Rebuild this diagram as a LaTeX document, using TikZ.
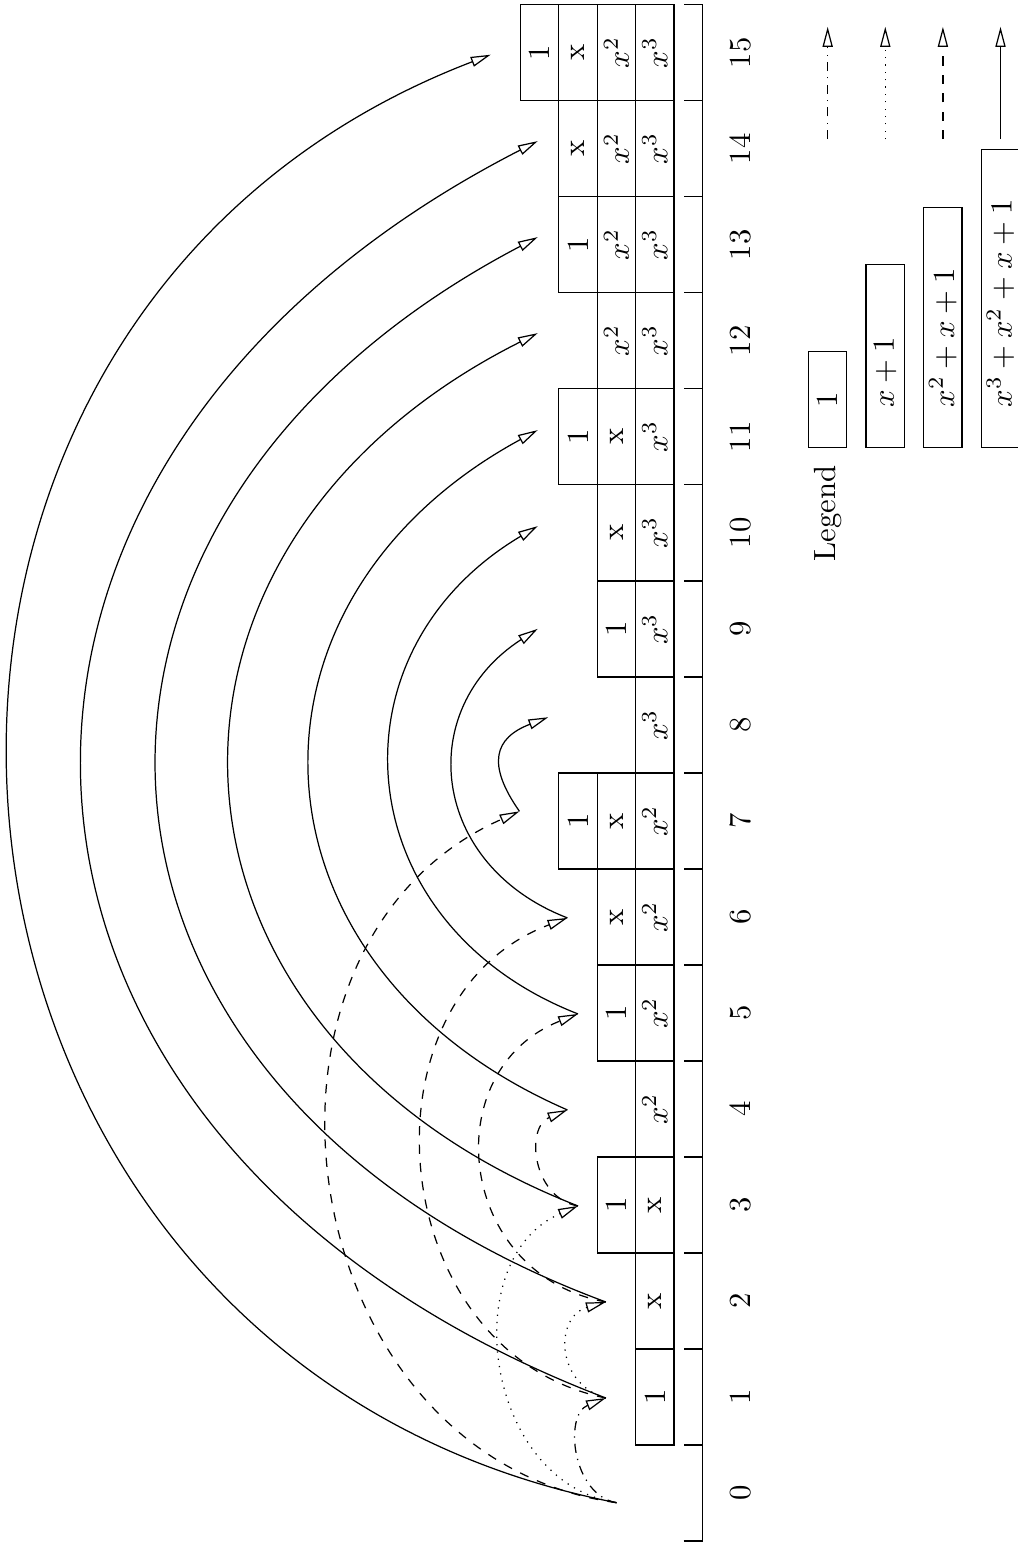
\documentclass[tikz,border=0pt]{standalone}
\usepackage{amsmath}
\usetikzlibrary{arrows.meta}

\begin{document}
\begin{tikzpicture}[
    rotate=90, transform shape, x=1.1cm, y=1.1cm,
    cell/.style={draw, minimum width=1.1cm, minimum height=0.44cm, inner sep=0pt},
    key/.style={draw, anchor=west, inner xsep=0.4565cm, inner ysep=0pt,
                minimum height=0.44cm, text width=#1, align=left},
    arrowed/.style={-{Triangle[open, length=6.5pt, width=3.3pt]}},
    hop/.style={arrowed, bend left=74, looseness=1.33},
  ]
  \useasboundingbox (-0.02,-3.28) rectangle (16.05,7.32);

  % axis with one slot per value
  \draw (0,0.2) -- (0,0) -- (16,0) -- (16,0.2);
  \draw (1,0) -- (1,0.2) (2,0) -- (2,0.2) (3,0) -- (3,0.2) (4,0) -- (4,0.2)
        (5,0) -- (5,0.2) (6,0) -- (6,0.2) (7,0) -- (7,0.2) (8,0) -- (8,0.2)
        (9,0) -- (9,0.2) (10,0) -- (10,0.2) (11,0) -- (11,0.2) (12,0) -- (12,0.2)
        (13,0) -- (13,0.2) (14,0) -- (14,0.2) (15,0) -- (15,0.2);
  \node (n0)  at (0.5,-0.39)  {0};
  \node (n1)  at (1.5,-0.39)  {1};
  \node (n2)  at (2.5,-0.39)  {2};
  \node (n3)  at (3.5,-0.39)  {3};
  \node (n4)  at (4.5,-0.39)  {4};
  \node (n5)  at (5.5,-0.39)  {5};
  \node (n6)  at (6.5,-0.39)  {6};
  \node (n7)  at (7.5,-0.39)  {7};
  \node (n8)  at (8.5,-0.39)  {8};
  \node (n9)  at (9.5,-0.39)  {9};
  \node (n10) at (10.5,-0.39) {10};
  \node (n11) at (11.5,-0.39) {11};
  \node (n12) at (12.5,-0.39) {12};
  \node (n13) at (13.5,-0.39) {13};
  \node (n14) at (14.5,-0.39) {14};
  \node (n15) at (15.5,-0.39) {15};

  % terms of each polynomial, highest power next to the axis
  \node[cell] (c1a)  at (1.5,0.5)  {1};
  \node[cell] (c2a)  at (2.5,0.5)  {x};
  \node[cell] (c3a)  at (3.5,0.5)  {x};
  \node[cell] (c3b)  at (3.5,0.9)  {1};
  \node[cell] (c4a)  at (4.5,0.5)  {$x^2$};
  \node[cell] (c5a)  at (5.5,0.5)  {$x^2$};
  \node[cell] (c5b)  at (5.5,0.9)  {1};
  \node[cell] (c6a)  at (6.5,0.5)  {$x^2$};
  \node[cell] (c6b)  at (6.5,0.9)  {x};
  \node[cell] (c7a)  at (7.5,0.5)  {$x^2$};
  \node[cell] (c7b)  at (7.5,0.9)  {x};
  \node[cell] (c7c)  at (7.5,1.3)  {1};
  \node[cell] (c8a)  at (8.5,0.5)  {$x^3$};
  \node[cell] (c9a)  at (9.5,0.5)  {$x^3$};
  \node[cell] (c9b)  at (9.5,0.9)  {1};
  \node[cell] (c10a) at (10.5,0.5) {$x^3$};
  \node[cell] (c10b) at (10.5,0.9) {x};
  \node[cell] (c11a) at (11.5,0.5) {$x^3$};
  \node[cell] (c11b) at (11.5,0.9) {x};
  \node[cell] (c11c) at (11.5,1.3) {1};
  \node[cell] (c12a) at (12.5,0.5) {$x^3$};
  \node[cell] (c12b) at (12.5,0.9) {$x^2$};
  \node[cell] (c13a) at (13.5,0.5) {$x^3$};
  \node[cell] (c13b) at (13.5,0.9) {$x^2$};
  \node[cell] (c13c) at (13.5,1.3) {1};
  \node[cell] (c14a) at (14.5,0.5) {$x^3$};
  \node[cell] (c14b) at (14.5,0.9) {$x^2$};
  \node[cell] (c14c) at (14.5,1.3) {x};
  \node[cell] (c15a) at (15.5,0.5) {$x^3$};
  \node[cell] (c15b) at (15.5,0.9) {$x^2$};
  \node[cell] (c15c) at (15.5,1.3) {x};
  \node[cell] (c15d) at (15.5,1.7) {1};

  % where the jumps land
  \coordinate (p0)  at (0.40,0.90);
  \coordinate (p1)  at (1.49,1.01);
  \coordinate (p2)  at (2.49,1.01);
  \coordinate (p3)  at (3.49,1.30);
  \coordinate (p4)  at (4.49,1.41);
  \coordinate (p5)  at (5.49,1.30);
  \coordinate (p6)  at (6.49,1.41);
  \coordinate (p7)  at (7.60,1.91);
  \coordinate (p8)  at (8.58,1.61);
  \coordinate (p9)  at (9.50,1.72);
  \coordinate (p10) at (10.57,1.72);
  \coordinate (p11) at (11.57,1.72);
  \coordinate (p12) at (12.58,1.72);
  \coordinate (p13) at (13.58,1.72);
  \coordinate (p14) at (14.58,1.72);
  \coordinate (p15) at (15.48,2.21);

  \draw[hop, dashdotted, looseness=1.1] (p0) to (p1);
  \draw[hop, dotted, looseness=1.14] (p0) to (p3);
  \draw[hop, dotted, looseness=1.42] (p1) to (p2);
  \draw[hop, dashed, looseness=1.21] (p0) to (p7);
  \draw[hop, dashed, looseness=1.21] (p1) to (p6);
  \draw[hop, dashed, looseness=1.35] (p2) to (p5);
  \draw[hop, dashed, looseness=1.22] (p3) to (p4);
  \draw[hop] (p0) to (p15);
  \draw[hop, bend left=66, looseness=1.45] (p1) to (p14);
  \draw[hop, bend left=66, looseness=1.45] (p2) to (p13);
  \draw[hop, bend left=66, looseness=1.4] (p3) to (p12);
  \draw[hop, bend left=64, looseness=1.35] (p4) to (p11);
  \draw[hop, bend left=64, looseness=1.3] (p5) to (p10);
  \draw[hop, bend left=63, looseness=1.3] (p6) to (p9);
  \draw[hop, bend left=52, looseness=1.5] (p7) to (p8);

  % legend
  \node (legend) at (10.70,-1.3) {Legend};
  \node[key=0.187cm] (k1) at (11.385,-1.3) {1};
  \node[key=1.177cm] (k2) at (11.385,-1.9) {$x+1$};
  \node[key=1.837cm] (k3) at (11.385,-2.5) {$x^2+x+1$};
  \node[key=2.497cm] (k4) at (11.385,-3.1) {$x^3+x^2+x+1$};
  \coordinate (a1) at (14.6,-1.3);  \coordinate (b1) at (15.77,-1.3);
  \coordinate (a2) at (14.6,-1.9);  \coordinate (b2) at (15.77,-1.9);
  \coordinate (a3) at (14.6,-2.5);  \coordinate (b3) at (15.77,-2.5);
  \coordinate (a4) at (14.6,-3.1);  \coordinate (b4) at (15.77,-3.1);
  \draw[arrowed, dashdotted] (a1) -- (b1);
  \draw[arrowed, dotted] (a2) -- (b2);
  \draw[arrowed, dashed] (a3) -- (b3);
  \draw[arrowed] (a4) -- (b4);
\end{tikzpicture}
\end{document}
